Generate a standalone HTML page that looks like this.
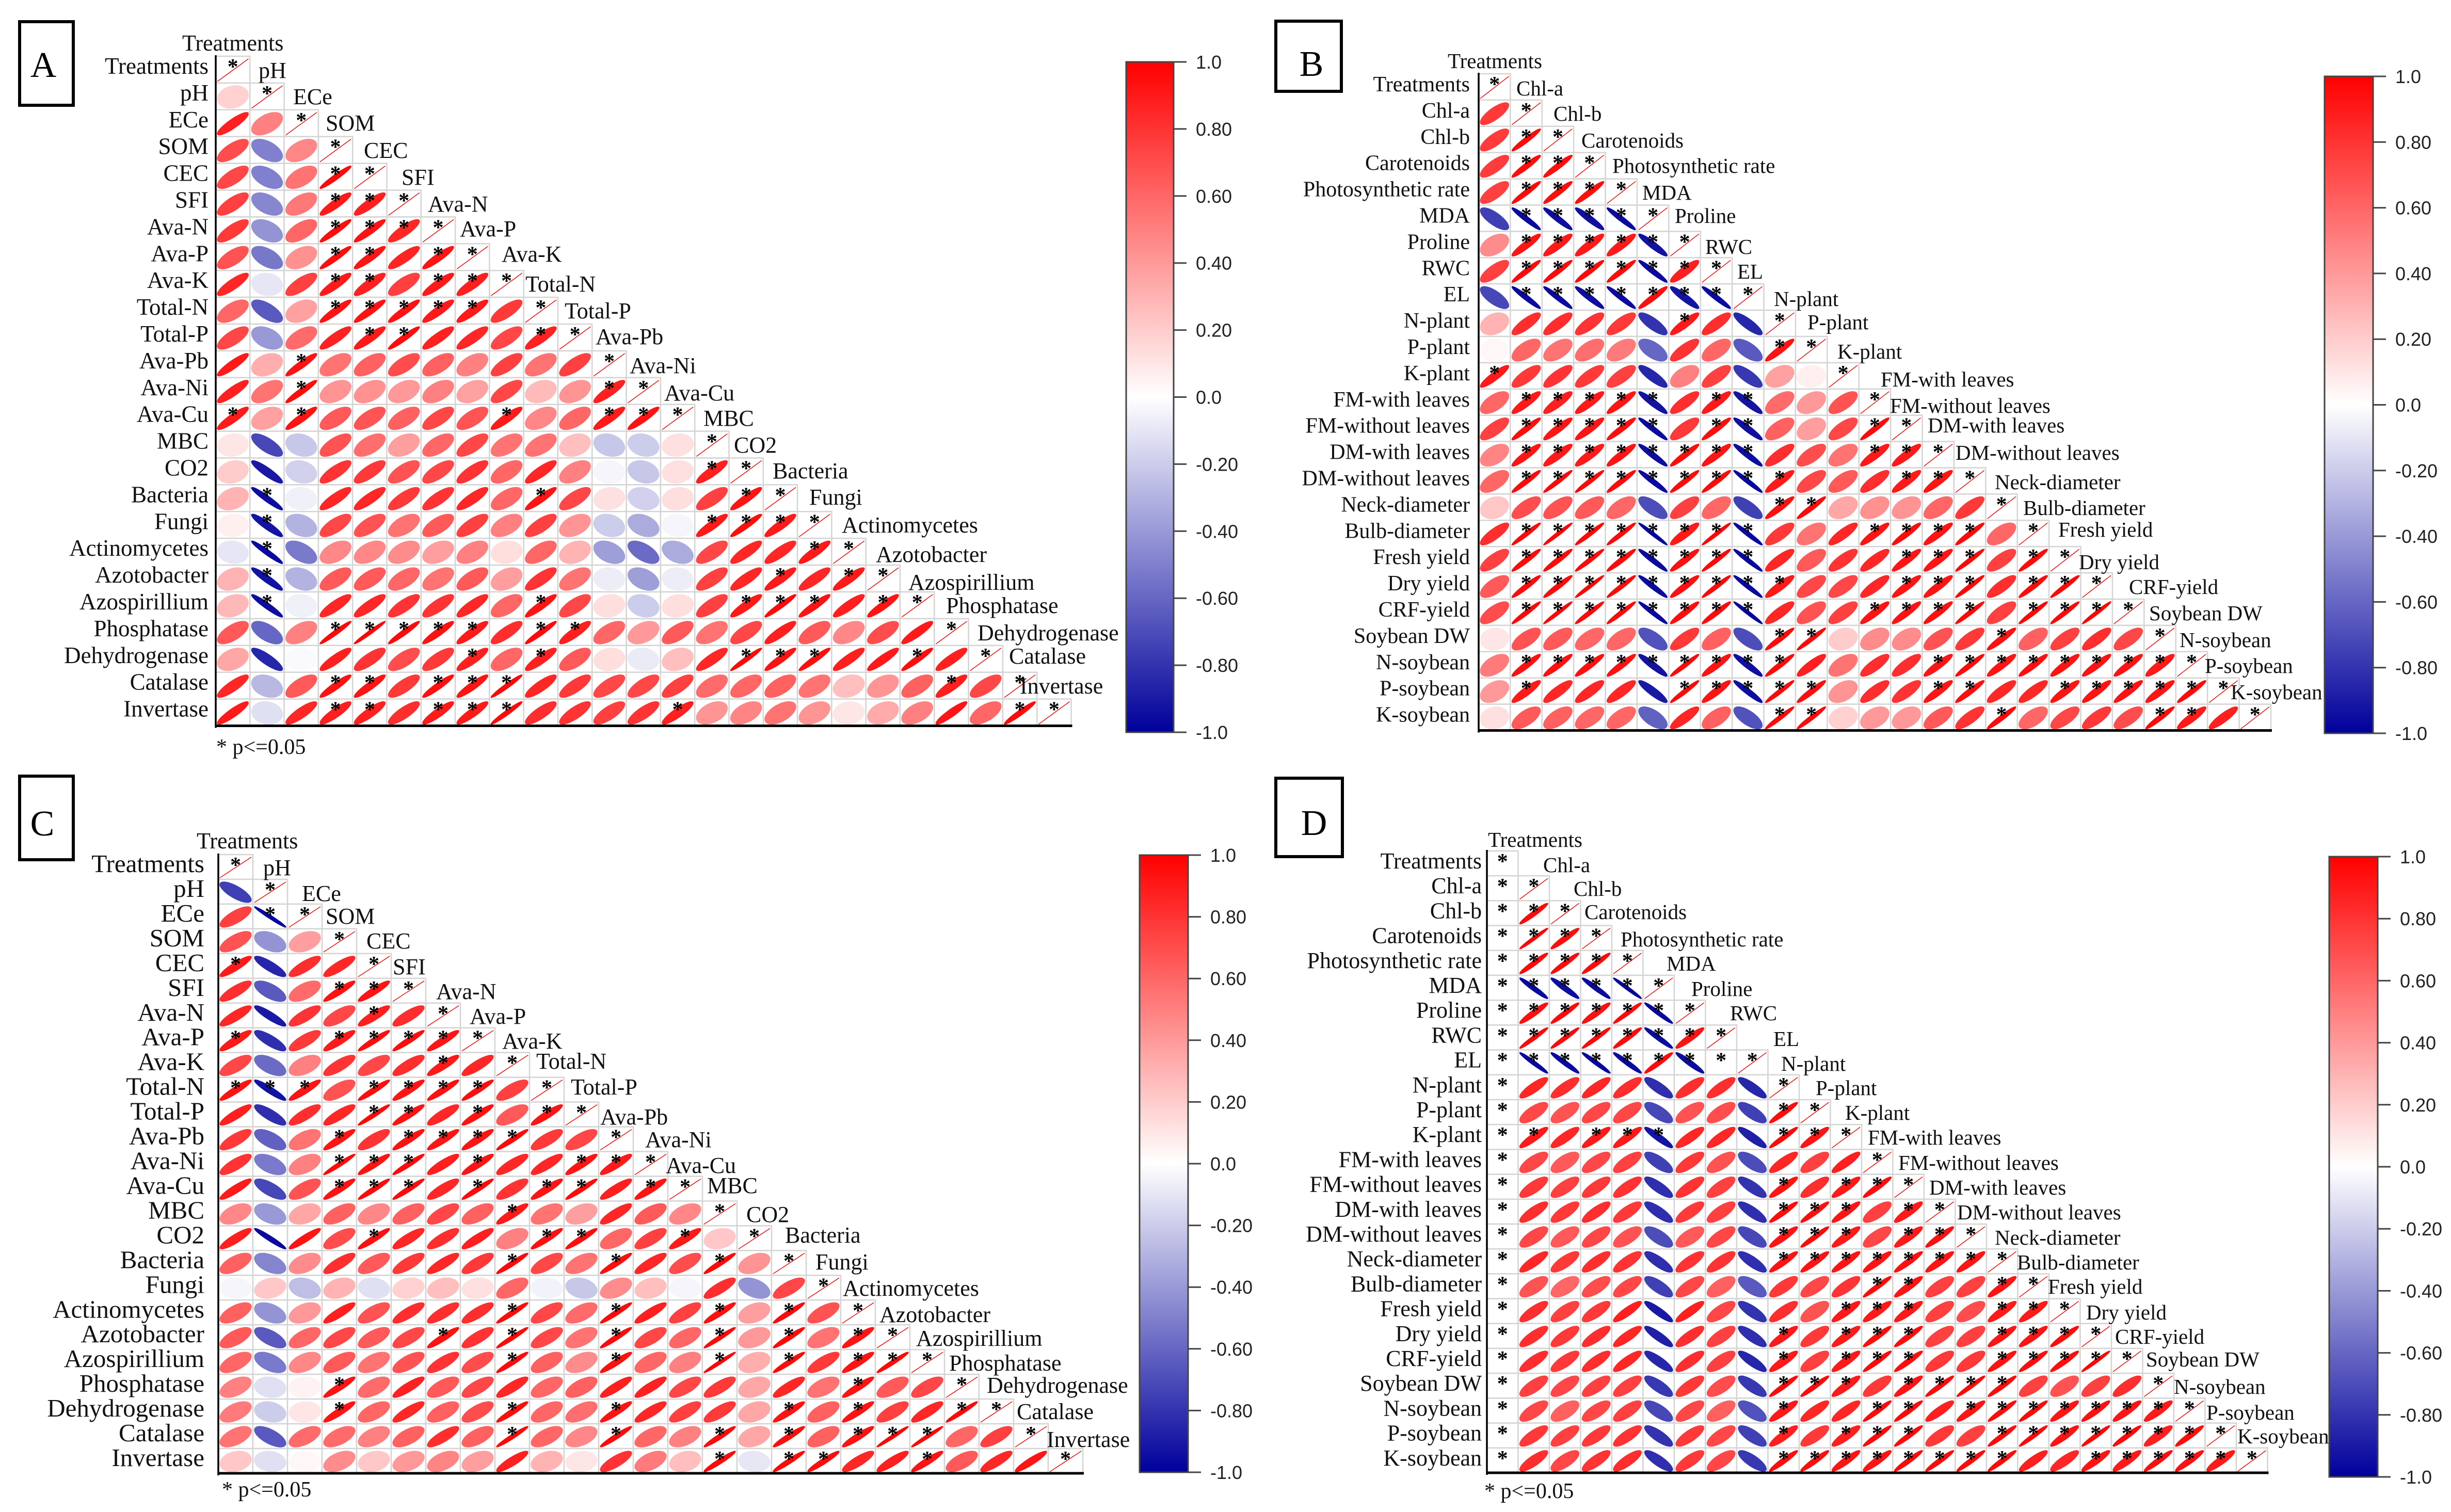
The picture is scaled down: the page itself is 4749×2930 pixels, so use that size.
<!DOCTYPE html>
<html lang="en">
<head>
<meta charset="utf-8">
<title>Correlation matrices A-D</title>
<style>
html,body{margin:0;padding:0;background:#fff;}
svg{display:block;}
text{font-family:"Liberation Serif",serif;fill:#111;}
.tick-text{font-family:"Liberation Sans",sans-serif;fill:#222;}
.letter{font-size:70px;fill:#000;text-anchor:middle;}
.note{font-size:42px;}
</style>
</head>
<body>
<svg id="figure" xmlns="http://www.w3.org/2000/svg" width="4749" height="2930" viewBox="0 0 4749 2930">
<defs>
<linearGradient id="scale" x1="0" y1="0" x2="0" y2="1">
<stop offset="0" stop-color="#ff0000"/><stop offset="0.5" stop-color="#ffffff"/><stop offset="1" stop-color="#00009c"/>
</linearGradient>
</defs>
<rect width="4749" height="2930" fill="#fff"/>

<g>
<rect x="38" y="42" width="104" height="162" fill="none" stroke="#000" stroke-width="6"/>
<text class="letter" x="84" y="149">A</text>
<rect x="2472" y="41" width="127" height="136" fill="none" stroke="#000" stroke-width="6"/>
<text class="letter" x="2541" y="147">B</text>
<rect x="38" y="1504" width="104" height="162" fill="none" stroke="#000" stroke-width="6"/>
<text class="letter" x="82" y="1619">C</text>
<rect x="2472" y="1508" width="129" height="152" fill="none" stroke="#000" stroke-width="6"/>
<text class="letter" x="2546" y="1618">D</text>
</g>

<g id="plots"></g>

<g font-size="44">
<text x="353" y="98">Treatments</text>
<text x="501" y="151">pH</text>
<text x="568" y="202">ECe</text>
<text x="631" y="253">SOM</text>
<text x="705" y="306">CEC</text>
<text x="778" y="358">SFI</text>
<text x="829" y="410">Ava-N</text>
<text x="891" y="458">Ava-P</text>
<text x="972" y="507">Ava-K</text>
<text x="1018" y="565">Total-N</text>
<text x="1094" y="617">Total-P</text>
<text x="1154" y="667">Ava-Pb</text>
<text x="1220" y="723">Ava-Ni</text>
<text x="1287" y="776">Ava-Cu</text>
<text x="1363" y="825">MBC</text>
<text x="1422" y="877">CO2</text>
<text x="1497" y="927">Bacteria</text>
<text x="1568" y="978">Fungi</text>
<text x="1631" y="1032">Actinomycetes</text>
<text x="1697" y="1089">Azotobacter</text>
<text x="1760" y="1143">Azospirillium</text>
<text x="1833" y="1188">Phosphatase</text>
<text x="1894" y="1241">Dehydrogenase</text>
<text x="1955" y="1286">Catalase</text>
<text x="1976" y="1344">Invertase</text>
</g>

<g font-size="41">
<text x="2805" y="132">Treatments</text>
<text x="2938" y="185">Chl-a</text>
<text x="3010" y="234">Chl-b</text>
<text x="3064" y="286">Carotenoids</text>
<text x="3124" y="335">Photosynthetic rate</text>
<text x="3182" y="387">MDA</text>
<text x="3245" y="432">Proline</text>
<text x="3304" y="492">RWC</text>
<text x="3366" y="540">EL</text>
<text x="3437" y="593">N-plant</text>
<text x="3502" y="638">P-plant</text>
<text x="3560" y="695">K-plant</text>
<text x="3644" y="749">FM-with leaves</text>
<text x="3662" y="800">FM-without leaves</text>
<text x="3735" y="838">DM-with leaves</text>
<text x="3789" y="891">DM-without leaves</text>
<text x="3865" y="948">Neck-diameter</text>
<text x="3920" y="998">Bulb-diameter</text>
<text x="3988" y="1040">Fresh yield</text>
<text x="4028" y="1103">Dry yield</text>
<text x="4125" y="1151">CRF-yield</text>
<text x="4164" y="1202">Soybean DW</text>
<text x="4223" y="1254">N-soybean</text>
<text x="4272" y="1304">P-soybean</text>
<text x="4322" y="1355">K-soybean</text>
</g>

<g font-size="44">
<text x="381" y="1644">Treatments</text>
<text x="510" y="1696">pH</text>
<text x="585" y="1746">ECe</text>
<text x="631" y="1790">SOM</text>
<text x="710" y="1838">CEC</text>
<text x="761" y="1888">SFI</text>
<text x="845" y="1936">Ava-N</text>
<text x="910" y="1984">Ava-P</text>
<text x="973" y="2032">Ava-K</text>
<text x="1039" y="2071">Total-N</text>
<text x="1106" y="2121">Total-P</text>
<text x="1163" y="2179">Ava-Pb</text>
<text x="1250" y="2223">Ava-Ni</text>
<text x="1290" y="2273">Ava-Cu</text>
<text x="1370" y="2312">MBC</text>
<text x="1446" y="2368">CO2</text>
<text x="1521" y="2408">Bacteria</text>
<text x="1580" y="2460">Fungi</text>
<text x="1633" y="2511">Actinomycetes</text>
<text x="1704" y="2562">Azotobacter</text>
<text x="1775" y="2608">Azospirillium</text>
<text x="1839" y="2656">Phosphatase</text>
<text x="1912" y="2699">Dehydrogenase</text>
<text x="1970" y="2750">Catalase</text>
<text x="2028" y="2804">Invertase</text>
</g>

<g font-size="41">
<text x="2883" y="1641">Treatments</text>
<text x="2990" y="1690">Chl-a</text>
<text x="3049" y="1736">Chl-b</text>
<text x="3070" y="1781">Carotenoids</text>
<text x="3140" y="1834">Photosynthetic rate</text>
<text x="3229" y="1881">MDA</text>
<text x="3277" y="1930">Proline</text>
<text x="3352" y="1977">RWC</text>
<text x="3436" y="2027">EL</text>
<text x="3451" y="2075">N-plant</text>
<text x="3518" y="2122">P-plant</text>
<text x="3575" y="2170">K-plant</text>
<text x="3619" y="2218">FM-with leaves</text>
<text x="3678" y="2267">FM-without leaves</text>
<text x="3738" y="2315">DM-with leaves</text>
<text x="3792" y="2363">DM-without leaves</text>
<text x="3865" y="2412">Neck-diameter</text>
<text x="3908" y="2460">Bulb-diameter</text>
<text x="3968" y="2507">Fresh yield</text>
<text x="4042" y="2557">Dry yield</text>
<text x="4098" y="2604">CRF-yield</text>
<text x="4158" y="2648">Soybean DW</text>
<text x="4212" y="2701">N-soybean</text>
<text x="4275" y="2751">P-soybean</text>
<text x="4335" y="2797">K-soybean</text>
</g>

<text class="note" x="419" y="1461">* p&lt;=0.05</text>
<text class="note" x="430" y="2900">* p&lt;=0.05</text>
<text class="note" x="2876" y="2903">* p&lt;=0.05</text>
</svg>

<script>
const soilLabels = ['Treatments','pH','ECe','SOM','CEC','SFI','Ava-N','Ava-P','Ava-K','Total-N','Total-P','Ava-Pb','Ava-Ni','Ava-Cu','MBC','CO2','Bacteria','Fungi','Actinomycetes','Azotobacter','Azospirillium','Phosphatase','Dehydrogenase','Catalase','Invertase'];
const plantLabels = ['Treatments','Chl-a','Chl-b','Carotenoids','Photosynthetic rate','MDA','Proline','RWC','EL','N-plant','P-plant','K-plant','FM-with leaves','FM-without leaves','DM-with leaves','DM-without leaves','Neck-diameter','Bulb-diameter','Fresh yield','Dry yield','CRF-yield','Soybean DW','N-soybean','P-soybean','K-soybean'];
const tickValues = [1,0.8,0.6,0.4,0.2,0,-0.2,-0.4,-0.6,-0.8,-1];
const tickLabels = ['1.0','0.80','0.60','0.40','0.20','0.0','-0.20','-0.40','-0.60','-0.80','-1.0'];

const valuesA = [
[],
[.18],
[.88,.5],
[.7,-.5,.47],
[.72,-.5,.55,.96],
[.75,-.47,.53,.9,.88],
[.78,-.42,.6,.95,.93,.85],
[.68,-.53,.43,.95,.92,.86,.92],
[.85,-.1,.75,.9,.87,.75,.9,.88],
[.6,-.65,.37,.93,.93,.93,.9,.9,.78],
[.72,-.4,.58,.87,.9,.95,.87,.85,.72,.87],
[.9,.32,.93,.55,.62,.7,.62,.5,.75,.55,.75],
[.88,.55,.95,.42,.43,.4,.5,.37,.72,.27,.42,.88],
[.9,.37,.92,.65,.67,.62,.72,.67,.9,.47,.6,.9,.93],
[.1,-.72,-.22,.68,.57,.38,.6,.72,.55,.55,.25,-.22,-.2,.12],
[.2,-.9,-.18,.8,.78,.68,.72,.8,.6,.85,.5,-.04,-.22,.12,.88],
[.3,-.95,-.06,.85,.85,.78,.8,.85,.6,.92,.72,.12,-.18,.13,.75,.92],
[.06,-.92,-.3,.72,.68,.55,.65,.75,.5,.75,.42,-.2,-.33,-.04,.9,.95,.9],
[-.1,-.96,-.52,.47,.47,.45,.38,.5,.13,.6,.3,-.38,-.58,-.33,.72,.85,.85,.9],
[.3,-.93,-.3,.65,.65,.6,.55,.65,.38,.8,.55,-.07,-.38,-.07,.75,.85,.9,.85,.9],
[.28,-.95,-.06,.85,.85,.8,.8,.85,.6,.92,.72,.13,-.2,.13,.75,.9,.96,.93,.88,.92],
[.65,-.6,.5,.97,.98,.96,.93,.9,.82,.96,.88,.6,.4,.65,.55,.72,.88,.65,.47,.7,.9],
[.35,-.85,-.02,.88,.8,.7,.78,.88,.6,.88,.65,.13,-.08,.25,.85,.97,.93,.95,.88,.9,.95,.88],
[.85,-.28,.65,.93,.92,.78,.94,.92,.97,.85,.78,.72,.72,.75,.58,.6,.62,.55,.25,.42,.62,.88,.72],
[.9,-.12,.85,.88,.88,.82,.9,.9,.97,.82,.8,.75,.8,.88,.42,.48,.55,.42,.1,.33,.5,.92,.6,.96]
];
const starsA = [[],[],[],[],[3],[3,4],[3,4,5],[3,4,6],[3,4,6,7],[3,4,5,6,7],[4,5,9],[2],[2,11],[0,2,8,11,12],[],[14],[1,9,15],[1,14,15,16],[1,17],[1,16,18],[1,9,15,16,17,19],[3,4,5,6,7,9,10],[7,9,15,16,17,20],[3,4,6,7,8,21],[3,4,6,7,8,13,23]];

const valuesB = [
[],
[.78],
[.77,.96],
[.77,.95,.95],
[.75,.96,.95,.95],
[-.75,-.96,-.95,-.94,-.96],
[.45,.92,.9,.9,.9,-.93],
[.75,.96,.96,.96,.96,-.96,.88],
[-.72,-.96,-.96,-.95,-.96,.95,-.92,-.96],
[.3,.82,.82,.8,.78,-.8,.9,.82,-.85],
[.03,.6,.55,.57,.52,-.6,.8,.6,-.65,.93],
[.9,.78,.8,.78,.75,-.85,.5,.75,-.78,.37,.06],
[.6,.9,.88,.9,.92,-.93,.82,.9,-.92,.58,.4,.68],
[.75,.95,.92,.92,.95,-.96,.78,.95,-.94,.62,.38,.72,.96],
[.48,.92,.9,.9,.92,-.95,.95,.92,-.95,.82,.7,.55,.9,.9],
[.6,.96,.97,.97,.96,-.96,.96,.96,-.97,.9,.72,.65,.82,.9,.92],
[.22,.7,.68,.65,.6,-.7,.75,.6,-.75,.94,.96,.35,.43,.42,.6,.78],
[.82,.97,.98,.97,.97,-.98,.9,.98,-.97,.78,.55,.85,.92,.95,.92,.96,.6],
[.75,.96,.96,.97,.96,-.96,.94,.97,-.97,.85,.65,.8,.85,.92,.92,.97,.75,.96],
[.65,.96,.96,.98,.97,-.96,.94,.97,-.97,.9,.72,.72,.85,.92,.92,.97,.82,.96,.97],
[.7,.97,.98,.97,.97,-.97,.95,.96,-.98,.85,.68,.75,.92,.93,.94,.97,.75,.97,.97,.98],
[.1,.68,.65,.6,.6,-.68,.78,.62,-.7,.96,.97,.2,.45,.45,.68,.78,.94,.62,.75,.82,.72],
[.52,.94,.94,.94,.94,-.93,.97,.93,-.94,.96,.88,.55,.82,.82,.92,.96,.92,.94,.92,.93,.93,.9],
[.4,.9,.85,.85,.85,-.9,.97,.92,-.95,.97,.95,.42,.82,.8,.92,.95,.85,.85,.92,.92,.93,.92,.96],
[.12,.65,.62,.6,.6,-.62,.85,.62,-.68,.97,.97,.18,.4,.4,.65,.8,.96,.6,.72,.78,.7,.96,.9,.88]
];
const starsB = [[],[],[1],[1,2],[1,2,3],[1,2,3,4],[1,2,3,4,5],[1,2,3,4,5,6],[1,2,3,4,5,6,7],[6],[9],[0],[1,2,3,4,5,7,8],[1,2,3,4,5,7,8,12],[1,2,3,4,5,6,7,8,12,13],[1,2,3,4,5,6,7,8,9,13,14],[9,10],[1,2,3,4,5,6,7,8,12,13,14,15],[1,2,3,4,5,6,7,8,13,14,15,17],[1,2,3,4,5,6,7,8,9,13,14,15,17,18],[1,2,3,4,5,6,7,8,12,13,14,15,17,18,19],[9,10,16],[1,2,3,4,5,6,7,8,9,14,15,16,17,18,19,20,21],[1,6,7,8,9,10,14,15,18,19,20,21,22],[9,10,16,21,22]];

const valuesC = [
[],
[-.75],
[.75,-.98],
[.68,-.42,.38],
[.9,-.85,.82,.85],
[.82,-.65,.58,.93,.92],
[.85,-.9,.8,.72,.88,.82],
[.9,-.82,.78,.9,.95,.95,.92],
[.72,-.58,.5,.8,.72,.82,.9,.85],
[.93,-.93,.92,.68,.95,.92,.94,.95,.75],
[.88,-.82,.82,.85,.97,.93,.85,.93,.65,.92],
[.78,-.62,.55,.92,.8,.93,.92,.92,.96,.78,.72],
[.8,-.52,.5,.97,.93,.96,.88,.92,.85,.85,.92,.9],
[.9,-.72,.68,.93,.96,.96,.85,.96,.8,.92,.96,.88,.92],
[.47,-.4,.35,.62,.47,.62,.72,.62,.9,.55,.38,.85,.65,.47],
[.88,-.96,.92,.7,.94,.85,.82,.88,.5,.94,.95,.6,.75,.9,.22],
[.62,-.48,.45,.82,.65,.78,.85,.78,.96,.72,.55,.95,.85,.7,.96,.42],
[-.04,.22,-.25,.3,-.12,.18,.25,.12,.6,-.05,-.22,.45,.25,-.04,.82,-.42,.72],
[.62,-.42,.4,.88,.68,.82,.82,.82,.96,.72,.58,.96,.88,.75,.94,.38,.96,.68],
[.65,-.65,.6,.72,.65,.72,.93,.8,.97,.72,.55,.96,.72,.6,.97,.4,.96,.55,.92],
[.6,-.52,.47,.65,.55,.68,.8,.7,.96,.62,.45,.94,.6,.5,.98,.32,.96,.78,.92,.97],
[.5,-.12,.05,.93,.58,.87,.65,.72,.85,.6,.62,.88,.87,.72,.78,.35,.85,.55,.93,.65,.72],
[.52,-.2,.1,.92,.6,.85,.62,.7,.95,.6,.57,.93,.85,.75,.78,.35,.93,.62,.93,.75,.85,.97],
[.55,-.65,.58,.58,.5,.62,.82,.62,.97,.6,.47,.96,.6,.5,.96,.35,.95,.62,.93,.98,.98,.6,.75],
[.22,-.12,.03,.45,.22,.4,.48,.38,.88,.3,.1,.8,.52,.25,.96,-.1,.96,.95,.85,.88,.93,.65,.85,.92]
];
const starsC = [[],[],[1],[],[0],[3,4],[4],[0,3,4,5,6],[6],[0,1,2,4,5,6,7],[4,5,7,9],[3,5,6,7,8],[3,4,5,7,10,11],[3,4,5,7,9,10,12],[8],[4,9,10,13],[8,11,14],[],[8,11,14,16],[6,8,11,14,16,18],[8,11,14,16,18,19],[3,18],[3,8,11,16,18,21],[8,11,14,16,18,19,20],[14,16,17,20]];

const valuesD = [
[],
[null],
[null,.96],
[null,.98,.95],
[null,.96,.96,.96],
[null,-.96,-.95,-.96,-.98],
[null,.94,.96,.94,.97,-.97],
[null,.97,.97,.97,.96,-.96,.93],
[null,-.97,-.96,-.97,-.96,.96,-.95,null],
[null,.85,.82,.85,.82,-.82,.82,.82,-.85],
[null,.72,.68,.72,.72,-.72,.68,.7,-.75,.95],
[null,.9,.85,.9,.9,-.92,.85,.85,-.88,.96,.92],
[null,.72,.65,.72,.75,-.75,.78,.68,-.7,.85,.75,.88],
[null,.78,.75,.78,.8,-.82,.8,.75,-.8,.92,.82,.9,.95],
[null,.82,.78,.82,.78,-.82,.78,.75,-.82,.95,.95,.92,.75,.9],
[null,.72,.65,.72,.68,-.7,.65,.72,-.72,.92,.96,.9,.72,.9,.94],
[null,.85,.78,.82,.8,-.82,.8,.8,-.82,.93,.93,.92,.92,.94,.92,.92],
[null,.68,.6,.7,.72,-.75,.72,.62,-.65,.78,.72,.8,.96,.92,.75,.75,.92],
[null,.82,.75,.78,.88,-.9,.88,.72,-.8,.82,.68,.9,.9,.9,.75,.7,.9,.9],
[null,.82,.78,.82,.85,-.88,.82,.75,-.82,.9,.78,.9,.95,.95,.75,.75,.92,.92,.95],
[null,.82,.78,.82,.85,-.85,.82,.75,-.85,.9,.75,.9,.96,.95,.78,.78,.93,.95,.95,.98],
[null,.75,.72,.75,.75,-.78,.78,.7,-.78,.96,.96,.9,.78,.92,.96,.97,.96,.75,.68,.75,.82],
[null,.72,.62,.72,.75,-.72,.72,.62,-.68,.9,.85,.85,.96,.96,.88,.92,.96,.96,.92,.94,.92,.9],
[null,.78,.75,.78,.8,-.8,.78,.72,-.75,.88,.78,.88,.96,.96,.78,.75,.96,.97,.92,.97,.96,.88,.95],
[null,.82,.72,.8,.82,-.82,.78,.72,-.78,.95,.95,.92,.92,.96,.96,.96,.96,.88,.85,.92,.9,.95,.94,.9]
];
const starsD = [[],[0],[0,1],[0,1,2],[0,1,2,3],[0,1,2,3,4],[0,1,2,3,4,5],[0,1,2,3,4,5,6],[0,1,2,3,4,5,6,7],[0],[0,9],[0,1,3,4,5,9,10],[0],[0,9,11,12],[0,9,10,11,13],[0,9,10,11,13,14],[0,9,10,11,12,13,14,15],[0,12,13,16],[0,11,12,13,16,17],[0,9,11,12,13,16,17,18],[0,9,11,12,13,16,17,18,19],[0,9,10,11,13,14,15,16],[0,9,12,13,15,16,17,18,19,20,21],[0,9,11,12,13,16,17,18,19,20,21,22],[0,9,10,11,12,13,14,15,16,19,20,21,22,23]];

const NS = 'http://www.w3.org/2000/svg';
const plots = document.getElementById('plots');

function make(tag, attrs, parent) {
  const el = document.createElementNS(NS, tag);
  for (const k in attrs) el.setAttribute(k, attrs[k]);
  parent.appendChild(el);
  return el;
}

function colorFor(r) {
  if (r >= 0) {
    const c = Math.round(255 * (1 - r));
    return 'rgb(255,' + c + ',' + c + ')';
  }
  const c = Math.round(255 * (1 + r));
  const b = Math.round(255 + (156 - 255) * (-r));
  return 'rgb(' + c + ',' + c + ',' + b + ')';
}

function ellipsePoints(r, cx, cy, rx, ry) {
  const d = Math.acos(Math.max(-1, Math.min(1, r)));
  const pts = [];
  for (let k = 0; k < 36; k++) {
    const t = k / 36 * 2 * Math.PI;
    const px = cx + rx * Math.cos(t + d / 2);
    const py = cy - ry * Math.cos(t - d / 2);
    pts.push(px.toFixed(1) + ',' + py.toFixed(1));
  }
  return pts.join(' ');
}

function drawPanel(key, labels, values, stars, box) {
  const xOf = col => box.x + col * box.cw;
  const yOf = row => box.y + row * box.rh;
  const g = make('g', {}, plots);
  
  

  labels.forEach((name, row) => {
    const label = make('text', {x: box.labelX, y: yOf(row) + 34, 'font-size': box.font, 'text-anchor': 'end'}, g);
    
    
    label.textContent = name;

    for (let col = 0; col <= row; col++) {
      const cell = make('rect', {x: xOf(col), y: yOf(row), width: box.cw, height: box.rh, fill: '#fff', stroke: '#d4d4d4', 'stroke-width': 2.5}, g);
      
      
    }
  });

  labels.forEach((name, row) => {
    for (let col = 0; col <= row; col++) {
      const isDiagonal = col === row;
      const blank = isDiagonal && box.blankFirst && row === 0;
      const r = isDiagonal ? (blank ? null : 1) : values[row][col];
      if (r !== null) {
        const cx = xOf(col) + box.cw / 2;
        const cy = yOf(row) + box.rh / 2 + 1;
        const color = colorFor(r);
        const mark = make('polygon', {points: ellipsePoints(r, cx, cy, box.cw / 2 - 3, box.rh / 2 - 4), fill: color, stroke: color, 'stroke-width': 1.4}, g);
        
        
      }
      if (isDiagonal || stars[row].includes(col)) {
        const star = make('text', {x: xOf(col) + box.cw / 2, y: yOf(row) + 34, 'font-size': 42, 'font-weight': 'bold', 'text-anchor': 'middle', style: 'fill:#000'}, g);
        
        
        star.textContent = '*';
      }
    }
  });

  const n = labels.length;
  const yAxis = make('line', {x1: box.x, x2: box.x, y1: box.y - 2, y2: yOf(n) + 4, stroke: '#000', 'stroke-width': 3.5}, g);
  
  
  const xAxis = make('line', {x1: box.x, x2: xOf(n) + 2, y1: yOf(n), y2: yOf(n), stroke: '#000', 'stroke-width': 5}, g);
  
  
}

function drawColorbar(key, bar) {
  const g = make('g', {}, plots);
  
  
  const yOf = v => bar.top + (1 - v) / 2 * (bar.bottom - bar.top);
  const rect = make('rect', {x: bar.left, y: bar.top, width: bar.right - bar.left, height: bar.bottom - bar.top, fill: 'url(#scale)', stroke: '#444', 'stroke-width': 3}, g);
  
  
  tickValues.forEach((v, i) => {
    const tick = make('line', {x1: bar.right, x2: bar.right + 25, y1: yOf(v), y2: yOf(v), stroke: '#444', 'stroke-width': 3}, g);
    
    
    const text = make('text', {class: 'tick-text', x: bar.right + 43, y: yOf(v) + 13, 'font-size': 36}, g);
    
    
    text.textContent = tickLabels[i];
  });
}

drawPanel('a', soilLabels, valuesA, starsA, {x: 418, y: 109, cw: 66.3, rh: 51.9, labelX: 404, font: 45});
drawPanel('b', plantLabels, valuesB, starsB, {x: 2865, y: 143, cw: 61.4, rh: 50.9, labelX: 2848, font: 42});
drawPanel('c', soilLabels, valuesC, starsC, {x: 423, y: 1656, cw: 67, rh: 47.96, labelX: 396, font: 49});
drawPanel('d', plantLabels, valuesD, starsD, {x: 2881, y: 1649, cw: 60.5, rh: 48.2, labelX: 2871, font: 44, blankFirst: true});

drawColorbar('a', {left: 2182, right: 2274, top: 120, bottom: 1419});
drawColorbar('b', {left: 4504, right: 4598, top: 148, bottom: 1421});
drawColorbar('c', {left: 2208, right: 2302, top: 1657, bottom: 2853});
drawColorbar('d', {left: 4513, right: 4607, top: 1660, bottom: 2862});
</script>
</body>
</html>
